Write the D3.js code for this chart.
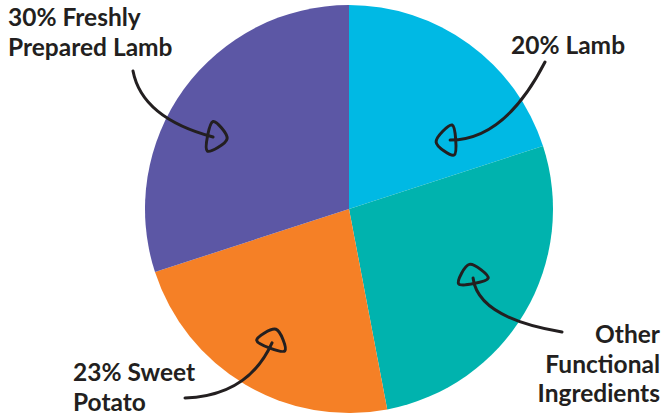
<!DOCTYPE html>
<html>
<head>
<meta charset="utf-8">
<script src="https://cdn.jsdelivr.net/npm/d3@7"></script>
<style>
  body { margin: 0; background: #fff; }
  svg { display: block; }
</style>
</head>
<body>
<svg id="chart" width="662" height="416"></svg>
<script>
// slices, clockwise from 12 o'clock
const names = ["Lamb", "Other Functional Ingredients", "Sweet Potato", "Freshly Prepared Lamb"];
const shares = [20, 27, 23, 30];
const colors = ["#00b9e4", "#00b3ae", "#f58026", "#5c57a5"];
// label lines for each slice
const labelLines = [
  ["20% Lamb"],
  ["Other", "Functional", "Ingredients"],
  ["23% Sweet", "Potato"],
  ["30% Freshly", "Prepared Lamb"],
];

const svg = d3.select("#chart");
const cx = 349, cy = 209, radius = 204;
const ink = "#231f20";

const pie = d3.pie().sort(null).value((d) => d);
const arcs = pie(shares);
const arc = d3.arc().innerRadius(0).outerRadius(radius);

const g = svg.append("g").attr("transform", `translate(${cx},${cy})`);

g.selectAll("path.slice")
  .data(arcs)
  .enter()
  .append("path")
  .attr("class", "slice")
  .attr("d", arc)
  .attr("fill", (d, i) => colors[i]);

// label layout and arrow: tail, curve control, tip (offset from slice mid angle in deg, radius factor)
const labelLayout = [
  { anchor: "start", x: 511, y: 54, tail: [545, 62], ctrl: [505, 140], tipA: 19.7, tipR: 0.60 },
  { anchor: "end", x: 660, y: 343, tail: [562, 332], ctrl: [478, 318], tipA: -1.5, tipR: 0.696 },
  { anchor: "start", x: 73, y: 381, tail: [185, 398], ctrl: [248, 396], tipA: -0.7, tipR: 0.757 },
  { anchor: "start", x: 8, y: 26, tail: [133, 71], ctrl: [142, 118], tipA: -8.1, tipR: 0.754 },
];
const lineGap = 29.5;

const labels = svg.append("g")
  .style("font-family", "Lato, 'Open Sans', sans-serif")
  .style("font-weight", 700)
  .style("font-size", "24.5px")
  .attr("fill", ink);

labelLines.forEach((lines, i) => {
  const L = labelLayout[i];
  const t = labels.append("text")
    .attr("text-anchor", L.anchor)
    .attr("x", L.x)
    .attr("y", L.y);
  lines.forEach((s, j) => {
    t.append("tspan").attr("x", L.x).attr("dy", j === 0 ? 0 : lineGap).text(s);
  });
});

// hand-drawn arrows
const arrows = svg.append("g")
  .attr("fill", "none")
  .attr("stroke", ink)
  .attr("stroke-width", 3)
  .attr("stroke-linecap", "round")
  .attr("stroke-linejoin", "round");

arcs.forEach((d, i) => {
  const L = labelLayout[i];
  const mid = (d.startAngle + d.endAngle) / 2 + (L.tipA * Math.PI) / 180;
  const tip = [cx + Math.sin(mid) * radius * L.tipR, cy - Math.cos(mid) * radius * L.tipR];
  const p = d3.path();
  p.moveTo(L.tail[0], L.tail[1]);
  p.quadraticCurveTo(L.ctrl[0], L.ctrl[1], tip[0], tip[1]);
  arrows.append("path").attr("d", p.toString());

  // loop head, oriented along end tangent
  let fx = tip[0] - L.ctrl[0], fy = tip[1] - L.ctrl[1];
  const len = Math.hypot(fx, fy);
  fx /= len; fy /= len;
  const nx = -fy, ny = fx;
  const local = [[-4, -15], [14, -2], [-2, 15]];
  const pts = local.map(([f, n]) => [tip[0] + f * fx + n * nx, tip[1] + f * fy + n * ny]);
  arrows.append("path")
    .attr("d", d3.line().curve(d3.curveCatmullRomClosed.alpha(0.5))(pts));
});
</script>
</body>
</html>
